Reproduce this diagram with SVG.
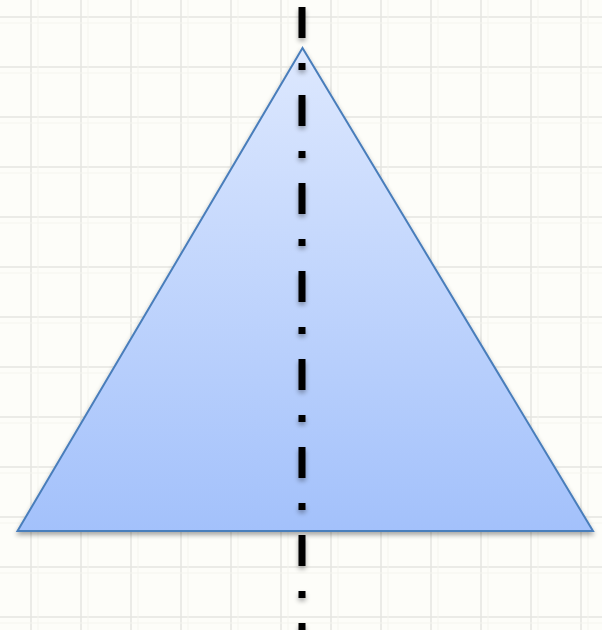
<svg xmlns="http://www.w3.org/2000/svg" width="602" height="630" viewBox="0 0 602 630">
<defs>
<linearGradient id="fillg" x1="0" y1="0" x2="0" y2="1">
<stop offset="0" stop-color="#dde8fe"/>
<stop offset="1" stop-color="#a3c1fb"/>
</linearGradient>
<pattern id="grid" x="0" y="0" width="50" height="50" patternUnits="userSpaceOnUse">
<rect width="50" height="50" fill="#fdfdf9"/>
<path d="M31 0V50M0 17H50" stroke="#e6e6e1" stroke-width="1.5"/>
<path d="M38 0V50M0 23H50" stroke="#f5f5f0" stroke-width="1"/>
</pattern>
<filter id="sh" filterUnits="userSpaceOnUse" x="0" y="0" width="602" height="630">
<feGaussianBlur in="SourceAlpha" stdDeviation="2.5"/>
<feOffset dx="0" dy="2.5"/>
<feComponentTransfer><feFuncA type="linear" slope="0.35"/></feComponentTransfer>
<feMerge><feMergeNode/><feMergeNode in="SourceGraphic"/></feMerge>
</filter>
</defs>
<style>
.tri{fill:url(#fillg);stroke:#4a7ebb;stroke-width:2;stroke-linejoin:miter}
.axis{fill:none;stroke:#000;stroke-width:7;stroke-dasharray:31 25 7 25}
</style>
<rect width="602" height="630" fill="url(#grid)"/>
<g id="triangle" filter="url(#sh)">
<polygon class="tri" points="302.5,48 17.5,531 593,531"/>
</g>
<g id="connectors" filter="url(#sh)">
<line class="axis" x1="302" y1="7" x2="302" y2="640"/>
</g>
</svg>
